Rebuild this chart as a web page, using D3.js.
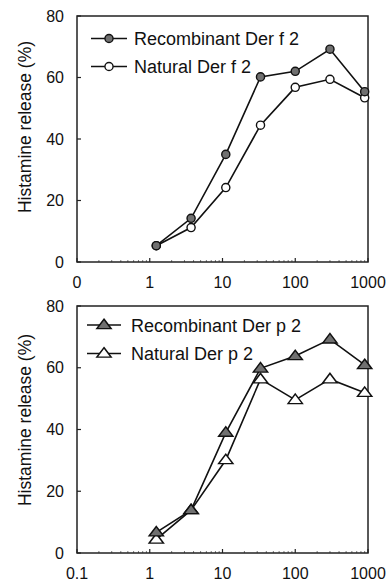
<!doctype html>
<html lang="en">
<head>
<meta charset="utf-8">
<title>Histamine release</title>
<style>
html, body {
	margin: 0;
	padding: 0;
	background: #fff;
	overflow: hidden;
}
svg {
	display: block;
	font-family: 'Liberation Sans', Arial, sans-serif;
	fill: #111;
}
.frame {
	fill: none;
	stroke: #222;
	stroke-width: 1.5px;
}
.tick {
	stroke: #222;
	stroke-width: 1.2px;
}
.series {
	fill: none;
	stroke: #111;
	stroke-width: 1.6px;
}
</style>
</head>
<body>
<div id="container"></div>
<script src="https://cdnjs.cloudflare.com/ajax/libs/d3/7.8.5/d3.min.js"></script>
<script>
// doses (3-fold dilution series)
var doses = [1.23, 3.7, 11.1, 33.3, 100, 300, 900];

var recDerF2 = [5.3, 14.2, 35, 60.2, 62, 69.2, 55.4];
var natDerF2 = [5.3, 11.2, 24.2, 44.5, 56.8, 59.4, 53.4];

var recDerP2 = [6.7, 13.9, 39, 59.8, 63.8, 69.2, 60.9];
var natDerP2 = [4.4, 13.9, 30.1, 56.3, 49.6, 56.3, 51.9];

var xTicks = [0.1, 1, 10, 100, 1000];
var xTickLabelsTop = ['0', '1', '10', '100', '1000'];
var xTickLabelsBottom = ['0.1', '1', '10', '100', '1000'];
var yTicks = [0, 20, 40, 60, 80];

var W = 389, H = 582;

var svg = d3.select('#container').append('svg')
	.attr('width', W)
	.attr('height', H);

var panels = [
	{
		top: 16, bottom: 262, labelY: 127,
		tickLabels: xTickLabelsTop,
		legendY: [38.5, 66.5], legendX: [91, 127], textX: 134,
		series: [
			{ name: 'Recombinant Der f 2', values: recDerF2, shape: 'circle', fill: '#707070' },
			{ name: 'Natural Der f 2', values: natDerF2, shape: 'circle', fill: '#fff' }
		]
	},
	{
		top: 306, bottom: 553, labelY: 420,
		tickLabels: xTickLabelsBottom,
		legendY: [325, 353.5], legendX: [87, 121], textX: 131,
		series: [
			{ name: 'Recombinant Der p 2', values: recDerP2, shape: 'triangle', fill: '#707070' },
			{ name: 'Natural Der p 2', values: natDerP2, shape: 'triangle', fill: '#fff' }
		]
	}
];

var left = 77, right = 368;

var x = d3.scaleLog().domain([0.1, 1000]).range([left, right]);

var circleSym = d3.symbol().type(d3.symbolCircle).size(52);
var triSym = d3.symbol().type(d3.symbolTriangle).size(64);

var drawMarker = function (g, s, cx, cy) {
	var isCircle = s.shape === 'circle';
	g.append('path')
		.attr('d', isCircle ? circleSym() : triSym())
		.attr('transform', 'translate(' + cx + ',' + (isCircle ? cy : cy + 0.5) + ') scale(' + (isCircle ? 1 : '1.18,0.9') + ')')
		.attr('fill', s.fill)
		.attr('stroke', '#111')
		.attr('stroke-width', 1.4);
};

panels.forEach(function (p) {
	var y = d3.scaleLinear().domain([0, 80]).range([p.bottom, p.top]);
	var g = svg.append('g');

	// y axis label
	g.append('text')
		.attr('transform', 'translate(31,' + p.labelY + ') rotate(-90)')
		.attr('text-anchor', 'middle')
		.style('font-size', '17.5px')
		.text('Histamine release (%)');

	// y ticks (inward)
	g.selectAll('.ytick').data(yTicks).enter()
		.append('line')
		.attr('class', 'tick')
		.attr('x1', left).attr('x2', left + 4)
		.attr('y1', function (d) { return y(d); })
		.attr('y2', function (d) { return y(d); });

	g.selectAll('.ylab').data(yTicks).enter()
		.append('text')
		.attr('x', 64)
		.attr('y', function (d) { return y(d) + 5.5; })
		.attr('text-anchor', 'end')
		.style('font-size', '16px')
		.text(function (d) { return d; });

	// x ticks, major and minor
	var minor = [];
	[0.1, 1, 10, 100].forEach(function (dec) {
		for (var k = 2; k <= 9; k++) minor.push(dec * k);
	});
	g.selectAll('.xminor').data(minor).enter()
		.append('line')
		.attr('stroke', '#555')
		.attr('stroke-width', 0.8)
		.attr('x1', function (d) { return x(d); })
		.attr('x2', function (d) { return x(d); })
		.attr('y1', p.bottom).attr('y2', p.bottom - 2);

	g.selectAll('.xtick').data(xTicks).enter()
		.append('line')
		.attr('class', 'tick')
		.attr('x1', function (d) { return x(d); })
		.attr('x2', function (d) { return x(d); })
		.attr('y1', p.bottom).attr('y2', p.bottom - 4);

	g.selectAll('.xlab').data(xTicks).enter()
		.append('text')
		.attr('x', function (d) { return x(d); })
		.attr('y', p.bottom + 26)
		.attr('text-anchor', 'middle')
		.style('font-size', '16px')
		.text(function (d, i) { return p.tickLabels[i]; });

	g.append('rect')
		.attr('class', 'frame')
		.attr('x', left).attr('y', p.top)
		.attr('width', right - left).attr('height', p.bottom - p.top);

	var line = d3.line()
		.x(function (d) { return x(d.dose); })
		.y(function (d) { return y(d.v); });

	// natural drawn first, recombinant on top
	p.series.slice().reverse().forEach(function (s) {
		var pts = doses.map(function (d, i) { return { dose: d, v: s.values[i] }; });
		g.append('path')
			.attr('class', 'series')
			.attr('d', line(pts));
		pts.forEach(function (pt) {
			drawMarker(g, s, x(pt.dose), y(pt.v));
		});
	});

	// legend
	p.series.forEach(function (s, i) {
		var ly = p.legendY[i];
		g.append('line')
			.attr('class', 'series')
			.attr('x1', p.legendX[0]).attr('x2', p.legendX[1])
			.attr('y1', ly).attr('y2', ly);
		drawMarker(g, s, (p.legendX[0] + p.legendX[1]) / 2, ly);
		g.append('text')
			.attr('x', p.textX)
			.attr('y', ly + 6.5)
			.style('font-size', '18px')
			.text(s.name);
	});
});
</script>
</body>
</html>
